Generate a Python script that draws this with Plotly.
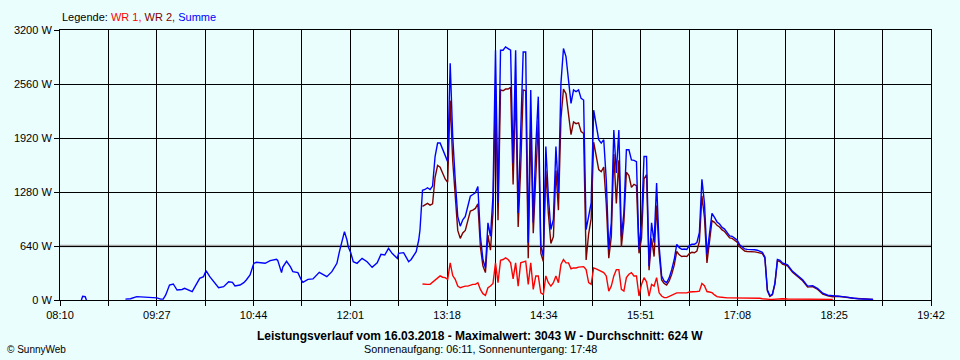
import plotly.graph_objects as go

def tmin(s):
    h, m = s.split(":")
    return int(h) * 60 + int(m)

# ---------------- data ----------------
# Morning: only "Summe" visible (WR 1 not yet reporting)
early_times = ["08:27", "08:28", "08:30", "08:31", "08:45",
               "09:02", "09:06", "09:11", "09:18", "09:27", "09:30", "09:32", "09:34", "09:37", "09:40",
               "09:43", "09:47", "09:49", "09:55", "09:57", "09:59", "10:01", "10:04", "10:06", "10:09",
               "10:12", "10:16", "10:20", "10:24", "10:27", "10:29", "10:33", "10:36", "10:38", "10:41",
               "10:44", "10:46", "10:53", "10:57", "11:02", "11:03", "11:06", "11:07", "11:10", "11:13",
               "11:15", "11:19", "11:22", "11:23", "11:27", "11:31", "11:36", "11:39", "11:42", "11:46",
               "11:50", "11:52", "11:54", "11:56", "11:58", "11:59", "12:01", "12:03", "12:06", "12:10",
               "12:14", "12:18", "12:22", "12:25", "12:28", "12:31", "12:34", "12:38", "12:39", "12:43",
               "12:47", "12:49", "12:53", "12:55", "12:56", "12:57"]
early_summe = [0, 45, 40, 0, None,
               10, 15, 40, 35, 25, 10, 10, 60, 178, 190,
               118, 125, 138, 99, 158, 217, 257, 276, 347, 276,
               217, 146, 158, 217, 210, 166, 178, 205, 237, 296,
               435, 447, 435, 466, 482, 470, 324, 390, 458, 395,
               336, 324, 229, 209, 245, 250, 328, 305, 276, 336,
               435, 573, 711, 810, 711, 632, 560, 454, 435, 494,
               454, 387, 440, 541, 533, 612, 550, 494, 553, 561,
               454, 480, 573, 711, 830, 1106]

# Main part: samples every 2 minutes starting 12:58
main_start = "12:58"
main_step_min = 2
main_summe = [1300, 1310, 1330, 1310, 1350, 1700, 1860, 1860, 1780, 1700,
              1640, 2805, 1940, 1425, 990, 875, 950, 990, 1110, 1230,
              1250, 1270, 1345, 755, 480, 380, 915, 755, 1230, 2960,
              1150, 2960, 2960, 3000, 2980, 2960, 1620, 2960, 1030, 2000,
              2940, 2940, 680, 2490, 915, 1820, 2410, 640, 520, 1820,
              1230, 835, 955, 1820, 1270, 2570, 2980, 2885, 2610, 2330,
              2490, 2470, 2490, 2390, 2370, 835, 990, 1150, 2250, 2055,
              1900, 1860, 1900, 1425, 600, 915, 2015, 1505, 2015, 755,
              1030, 1780, 1780, 1660, 1655, 1640, 600, 915, 1700, 1700,
              400, 915, 680, 1385, 640, 285, 225, 205, 265, 360,
              480, 660, 620, 600, 605, 600, 645, 660, 660, 680,
              800, 1430, 1150, 540, 760, 1027, 980, 925, 900, 860,
              840, 800, 760, 755, 735, 710, 655, 625, 605, 600,
              600, 598, 595, 590, 580, 565, 510, 120, 50, 70,
              200, 480, 470, 440]
main_wr1 = [190, 185, 185, 185, 210, 245, 265, 285, 270, 265,
            245, 440, 290, 245, 165, 145, 155, 165, 165, 175,
            185, 185, 205, 125, 75, 55, 145, 165, 195, 440,
            205, 470, 480, 500, 480, 440, 250, 440, 165, 440,
            450, 460, 185, 440, 125, 285, 285, 85, 65, 285,
            205, 165, 205, 285, 205, 420, 480, 440, 440, 370,
            380, 380, 390, 395, 395, 360, 205, 185, 380, 370,
            355, 340, 325, 285, 105, 165, 285, 360, 360, 125,
            105, 265, 305, 325, 285, 285, 47, 185, 265, 215,
            47, 185, 165, 265, 85, 47, 28, 28, 40, 55,
            67, 85, 85, 85, 85, 85, 95, 95, 100, 100,
            105, 195, 170, 100, 95, 87, 60, 40, 35, 30,
            28, 25, 25, 25, 25, 25, 25, 25, 25, 25,
            25, 25, 25, 25, 20, 15, 10, 10, 8, 8,
            10, 15, 15, 15]
main_wr2 = [1110, 1125, 1145, 1125, 1140, 1455, 1595, 1575, 1510, 1435,
            1395, 2365, 1650, 1180, 825, 730, 795, 825, 945, 1055,
            1065, 1085, 1140, 630, 405, 325, 770, 590, 1035, 2520,
            945, 2490, 2480, 2500, 2500, 2520, 1370, 2520, 865, 1560,
            2490, 2480, 495, 2050, 790, 1535, 2125, 555, 455, 1535,
            1025, 670, 750, 1535, 1065, 2150, 2500, 2445, 2170, 1960,
            2110, 2090, 2100, 1995, 1975, 475, 785, 965, 1870, 1685,
            1545, 1520, 1575, 1140, 495, 750, 1730, 1145, 1655, 630,
            925, 1515, 1475, 1335, 1370, 1355, 553, 730, 1435, 1485,
            353, 730, 515, 1120, 555, 238, 197, 177, 225, 305,
            413, 575, 535, 515, 520, 515, 550, 565, 560, 580,
            695, 1235, 980, 440, 665, 940, 920, 885, 865, 830,
            812, 775, 735, 730, 710, 685, 630, 600, 580, 575,
            575, 573, 570, 565, 560, 550, 500, 110, 42, 62,
            190, 465, 455, 425]

# Evening tail
late_times = ["17:48", "17:52", "17:56", "18:00", "18:04", "18:08", "18:12", "18:16", "18:20",
              "18:24", "18:28", "18:32", "18:36", "18:40", "18:44", "18:48", "18:52", "18:56"]
late_summe = [418, 340, 290, 240, 165, 170, 135, 80, 57, 47, 45, 40, 30, 20, 15, 12, 12, 8]
late_wr1 = [12, 12, 12, 12, 12, 12, 10, 10, 8, 8, None, None, None, None, None, None, None, None]
late_wr2 = [406, 328, 278, 228, 153, 158, 125, 70, 49, 39, 45, 40, 30, 20, 15, 12, 12, 8]

x_tick_labels = ["08:10", "09:27", "10:44", "12:01", "13:18", "14:34", "15:51", "17:08", "18:25", "19:42"]
y_tick_values = [0, 640, 1280, 1920, 2560, 3200]

title_text = "Leistungsverlauf vom 16.03.2018 - Maximalwert: 3043 W - Durchschnitt: 624 W"
sub_text = "Sonnenaufgang: 06:11, Sonnenuntergang: 17:48"

# ---------------- build ----------------
t0 = tmin(main_start)
main_times = [t0 + main_step_min * i for i in range(len(main_summe))]
early_t = [tmin(s) for s in early_times]
late_t = [tmin(s) for s in late_times]

x_sum = early_t + main_times + late_t
y_sum = early_summe + main_summe + late_summe
x_wr = main_times + late_t
y_wr1 = main_wr1 + late_wr1
y_wr2 = main_wr2 + late_wr2

x_min = tmin(x_tick_labels[0])
x_max = tmin(x_tick_labels[-1])
n_div = 2 * (len(x_tick_labels) - 1)
grid_vals = [x_min + (x_max - x_min) * k / n_div for k in range(n_div + 1)]
grid_text = []
for k in range(n_div + 1):
    grid_text.append(x_tick_labels[k // 2] if k % 2 == 0 else "")

BG = "#EAFEFE"
FONT = "Liberation Sans, Arial, sans-serif"

fig = go.Figure()
fig.add_trace(go.Scatter(x=x_wr, y=y_wr1, mode="lines", line=dict(color="#FF0000", width=1.4),
                         connectgaps=False, name="WR 1"))
fig.add_trace(go.Scatter(x=x_wr, y=y_wr2, mode="lines", line=dict(color="#800000", width=1.4),
                         connectgaps=False, name="WR 2"))
fig.add_trace(go.Scatter(x=x_sum, y=y_sum, mode="lines", line=dict(color="#0000FF", width=1.4),
                         connectgaps=False, name="Summe"))

# grey shadow under the 640 W line
fig.add_shape(type="line", xref="paper", x0=0, x1=1, yref="y", y0=640, y1=640,
              line=dict(color="#A8A8A8", width=2.5), layer="below")

fig.update_layout(
    width=960, height=360,
    margin=dict(l=60, r=29, t=30, b=60),
    paper_bgcolor=BG, plot_bgcolor=BG,
    showlegend=False,
    font=dict(family=FONT, size=11, color="black"),
    xaxis=dict(range=[x_min, x_max], tickmode="array", tickvals=grid_vals, ticktext=grid_text,
               showgrid=True, gridcolor="black", gridwidth=1,
               showline=True, linecolor="black", linewidth=1, mirror=True,
               ticks="outside", ticklen=5, tickcolor="black", zeroline=False,
               tickfont=dict(family=FONT, size=11, color="black")),
    yaxis=dict(range=[0, 3200], tickmode="array", tickvals=y_tick_values,
               ticktext=[f"{v} W" for v in y_tick_values],
               showgrid=True, gridcolor="black", gridwidth=1,
               showline=True, linecolor="black", linewidth=1, mirror=True,
               ticks="outside", ticklen=5, tickcolor="black", zeroline=False,
               tickfont=dict(family=FONT, size=11, color="black")),
)

legend_html = ("Legende: <span style='color:#FF0000'>WR 1,</span> "
               "<span style='color:#800000'>WR 2,</span> "
               "<span style='color:#0000FF'>Summe</span>")
fig.add_annotation(text=legend_html, xref="paper", yref="paper", x=0, y=1,
                   xanchor="left", yanchor="middle", yshift=13, showarrow=False,
                   font=dict(family=FONT, size=11, color="black"))

cx = (480 - 60) / 871
fig.add_annotation(text="<b>" + title_text + "</b>", xref="paper", yref="paper", x=cx, y=0,
                   xanchor="center", yanchor="middle", yshift=-36, showarrow=False,
                   font=dict(family=FONT, size=12, color="black"))
fig.add_annotation(text=sub_text, xref="paper", yref="paper", x=cx, y=0,
                   xanchor="center", yanchor="middle", yshift=-49, showarrow=False,
                   font=dict(family=FONT, size=10.8, color="black"))
fig.add_annotation(text="© SunnyWeb", xref="paper", yref="paper", x=(5 - 60) / 871, y=0,
                   xanchor="left", yanchor="middle", yshift=-49, showarrow=False,
                   font=dict(family=FONT, size=10, color="black"))

fig.write_html("out.html",
               config={"displayModeBar": False},
               post_script="document.body.style.margin='0';document.body.style.padding='0';"
                           "document.body.style.overflow='hidden';"
                           "document.body.style.background='" + BG + "';")
